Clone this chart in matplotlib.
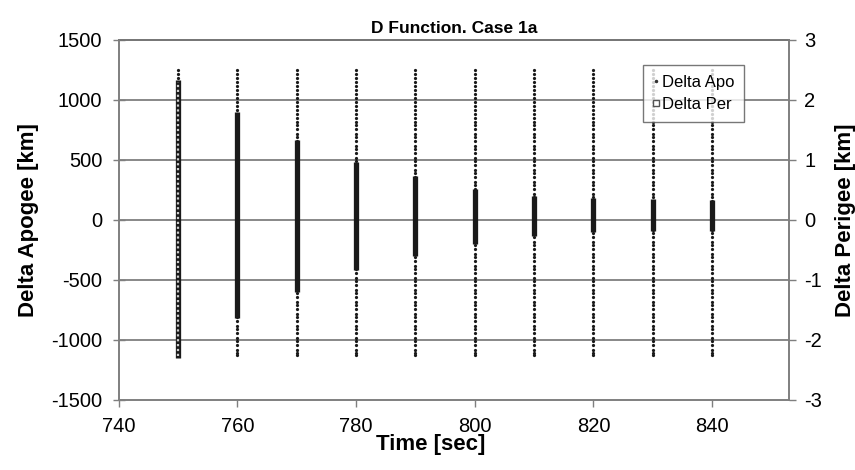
import matplotlib
matplotlib.use("Agg")
import matplotlib.pyplot as plt
from matplotlib.lines import Line2D

plt.rcParams['font.family'] = ['Liberation Sans', 'DejaVu Sans']
plt.rcParams['axes.unicode_minus'] = False

# ---------------------------
# data
# ---------------------------
times = [750, 760, 770, 780, 790, 800, 810, 820, 830, 840]

# Delta Apo samples [km] - same spread at each time step
apo_levels = [1250, 1215, 1180, 1150, 1120, 1085, 1050, 1020, 985, 950,
              920, 885, 850, 820, 790, 755, 720, 690, 655, 620,
              590, 555, 520, 490, 455, 420, 390, 355, 320, 290,
              255, 220, 190, 155, 120, 90, 55, 20, -10, -45,
              -80, -110, -145, -180, -210, -245, -280, -310, -345, -380,
              -410, -445, -480, -510, -545, -580, -610, -645, -680, -710,
              -745, -780, -810, -845, -880, -910, -945, -980, -1010, -1045,
              -1080, -1110, -1125]

# Delta Per span [km] per time step (right axis)
per_max = [2.33, 1.80, 1.33, 0.97, 0.73, 0.52, 0.40, 0.37, 0.35, 0.33]
per_min = [-2.30, -1.63, -1.20, -0.83, -0.60, -0.40, -0.27, -0.20, -0.19, -0.18]

# ---------------------------
# plot
# ---------------------------
fig = plt.figure(figsize=(8.55, 4.70), dpi=100)
ax = fig.add_axes([0.139, 0.149, 0.784, 0.766])
ax2 = ax.twinx()

grid_c = '#7f7f7f'
for yv in [-1000, -500, 0, 500, 1000]:
    ax.axhline(yv, color=grid_c, lw=1.3, zorder=0)

for t in times:
    ax.plot([t] * len(apo_levels), apo_levels, ls='none', marker='.',
            ms=2.6, color='#1a1a1a', zorder=3)

ax2.vlines(times, per_min, per_max, colors='#1a1a1a', lw=3.8, zorder=2)
# hollow-square texture on the widest column
for t, lo, hi in zip(times, per_min, per_max):
    if hi - lo > 4:
        ax2.vlines(t, lo + 0.03, hi - 0.03, colors='#cfcfcf', lw=1.6,
                   linestyles=(0, (1.0, 1.2)), zorder=2.5)

ax.set_xlim(740, 853)
ax.set_ylim(-1500, 1500)
ax2.set_ylim(-3, 3)
ax.set_xticks([740, 760, 780, 800, 820, 840])
ax.set_yticks([-1500, -1000, -500, 0, 500, 1000, 1500])
ax2.set_yticks([-3, -2, -1, 0, 1, 2, 3])

for a in (ax, ax2):
    for s in a.spines.values():
        s.set_color(grid_c)
        s.set_linewidth(1.2)
    a.tick_params(labelsize=14.5, color=grid_c, width=1.0, length=5)
ax.tick_params(axis='y', direction='inout', length=8, pad=8)
ax.tick_params(axis='x', pad=7)
ax2.tick_params(axis='y', pad=6)
ax.spines['top'].set_color('#333333')

ax.set_xlabel('Time [sec]', fontsize=16, fontweight='bold', va='top')
ax.xaxis.set_label_coords(0.465, -0.095)
ax.set_ylabel('Delta Apogee [km]', fontsize=16, fontweight='bold', labelpad=9)
ax2.set_ylabel('Delta Perigee [km]', fontsize=16, fontweight='bold', labelpad=9)
ax.set_title('D Function. Case 1a', fontsize=12.5, fontweight='bold', pad=5)

handles = [
    Line2D([], [], ls='none', marker='.', ms=3, color='#333333', label='Delta Apo'),
    Line2D([], [], ls='none', marker='s', ms=4, mfc='white', mec='#555555',
           mew=1, label='Delta Per'),
]
leg = ax.legend(handles=handles, loc='upper right', bbox_to_anchor=(0.933, 0.93),
                borderaxespad=0, fontsize=12, frameon=True, fancybox=False,
                handlelength=0.3, handletextpad=0.2, borderpad=0.6, labelspacing=0.4)
leg.get_frame().set_edgecolor('#555555')
leg.get_frame().set_linewidth(1.0)
leg.set_zorder(5)

fig.savefig('out.png', dpi=100)
